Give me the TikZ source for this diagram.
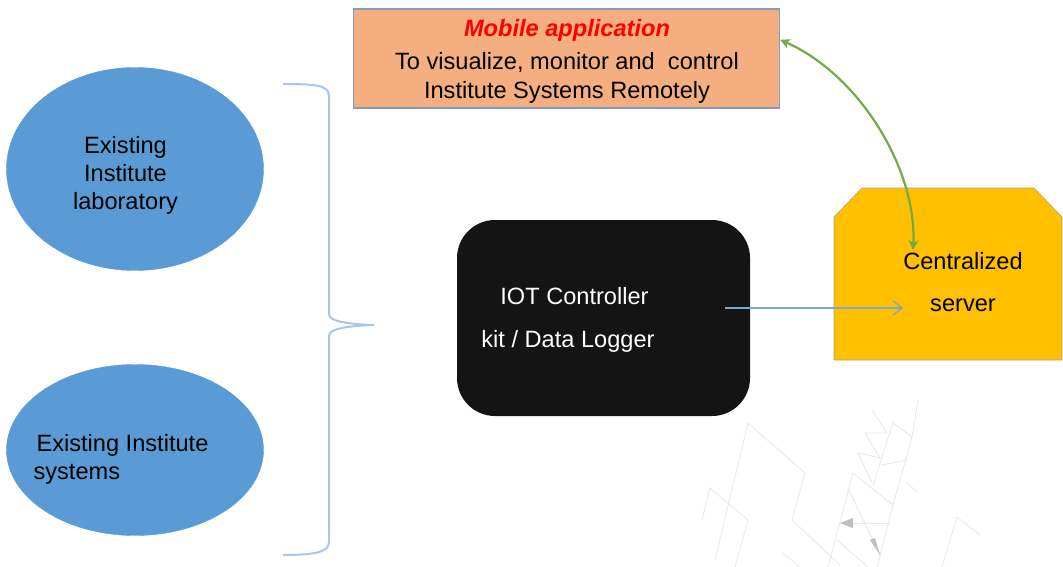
\documentclass[tikz,border=0pt]{standalone}
\usepackage{fontspec}
\setmainfont{Liberation Sans}
\usetikzlibrary{shapes.geometric,arrows.meta}
\definecolor{lab}{HTML}{5B9BD5}
\definecolor{app}{HTML}{F4AE7F}
\definecolor{appline}{HTML}{7F9DBF}
\definecolor{srv}{HTML}{FFC000}
\definecolor{ctrl}{HTML}{141414}
\definecolor{wire}{HTML}{7FA6CF}
\definecolor{brace}{HTML}{A9C6E6}
\definecolor{link}{HTML}{70AD47}
\definecolor{sketch}{HTML}{E9E9E9}
\begin{document}
\begin{tikzpicture}[x=1pt,y=-1pt,font=\fontsize{23.6}{26}\selectfont,
  blob/.style={ellipse,fill=lab,draw=lab,minimum width=257pt,inner sep=0pt},
  txt/.style={inner sep=0pt,align=center}]
\useasboundingbox[fill=white] (0,0) rectangle (1063,567);
% faint sketch behind the boxes
\draw [sketch,line width=0.9pt] (715,560) -- (748,423) -- (805,473) -- (792,520) -- (840,565);
\draw [sketch,line width=0.9pt] (702,520) -- (710,488) -- (748,520) -- (735,567);
\draw [sketch,line width=0.9pt] (828,567) -- (853,473) -- (893,505) -- (877,567);
\draw [sketch,line width=0.9pt] (848,488) -- (880,555);
\draw [sketch,line width=0.9pt] (837,540) -- (868,567);
\draw [sketch,line width=0.9pt] (840,523) -- (890,523);
\draw [sketch,line width=0.9pt] (873,485) -- (893,423) -- (912,437) -- (893,505);
\draw [sketch,line width=0.9pt] (918,400) -- (912,437);
\draw [sketch,line width=0.9pt] (872,410) -- (887,433) -- (865,433) -- (880,458) -- (858,453) -- (872,483);
\draw [sketch,line width=0.9pt] (882,465) -- (907,460);
\draw [sketch,line width=0.9pt] (907,483) -- (917,492);
\draw [sketch,line width=0.9pt] (942,567) -- (957,517) -- (980,535);
\draw [sketch,line width=0.9pt] (783,553) -- (800,567);
\fill [black!25] (840,523) -- (853,518) -- (853,528);
\fill [black!25] (880,555) -- (870,540) -- (875,538);
% left side
\node [blob,minimum height=203pt] (lab) at (135,169) {};
\node [txt] (labtext) at (125.5,175) {Existing\\[2pt]Institute\\[2pt]laboratory};
\node [blob,minimum height=171pt] (sys) at (135,450) {};
\node [txt,align=left] (systext) at (121,459) {\hspace*{3pt}Existing Institute\\[2pt]systems};
\draw [brace,line width=2pt] (283,84) .. controls (315,84) and (329,85) .. (329,96)
  -- (329,314) .. controls (329,321) and (345,324) .. (374,325)
  .. controls (345,326) and (329,329) .. (329,336)
  -- (329,542) .. controls (329,552) and (315,555) .. (283,555);
% top box
\node [rectangle,fill=app,draw=appline,line width=1.4pt,minimum width=426pt,minimum height=99pt,inner sep=0pt] (mobile) at (566.5,58.5) {};
\node [txt] (mobiletext) at (567,61.5)
  {\textcolor{red}{\bfseries\itshape Mobile application}\\[7pt]To visualize, monitor and\ \ control\\[3pt]Institute Systems Remotely};
% controller
\node [rectangle,rounded corners=38pt,fill=ctrl,minimum width=293pt,minimum height=196pt] (kit) at (603.5,318) {};
\node [txt,text=white] (kittext) at (568,320) {\hspace*{13pt}IOT Controller\\[17pt]kit / Data Logger};
% server
\fill [srv,draw=appline!70!srv,line width=0.6pt] (834,217) -- (862,188) -- (1034,188) -- (1062,217) -- (1062,360) -- (834,360) -- cycle;
\node [txt] (servertext) at (963,282) {Centralized\\[16pt]server};
\coordinate (kitout) at (725,308);
\draw [wire,line width=1.2pt,-{Straight Barb[length=9pt,width=14pt]}] (kitout) -- (servertext.west |- kitout);
\draw [link,line width=2.2pt,{Stealth[length=10pt,width=10pt]}-{Stealth[length=10pt,width=10pt]}] (mobile.5.3) .. controls (860,75) and (917,170) .. (913,250);
\end{tikzpicture}
\end{document}
